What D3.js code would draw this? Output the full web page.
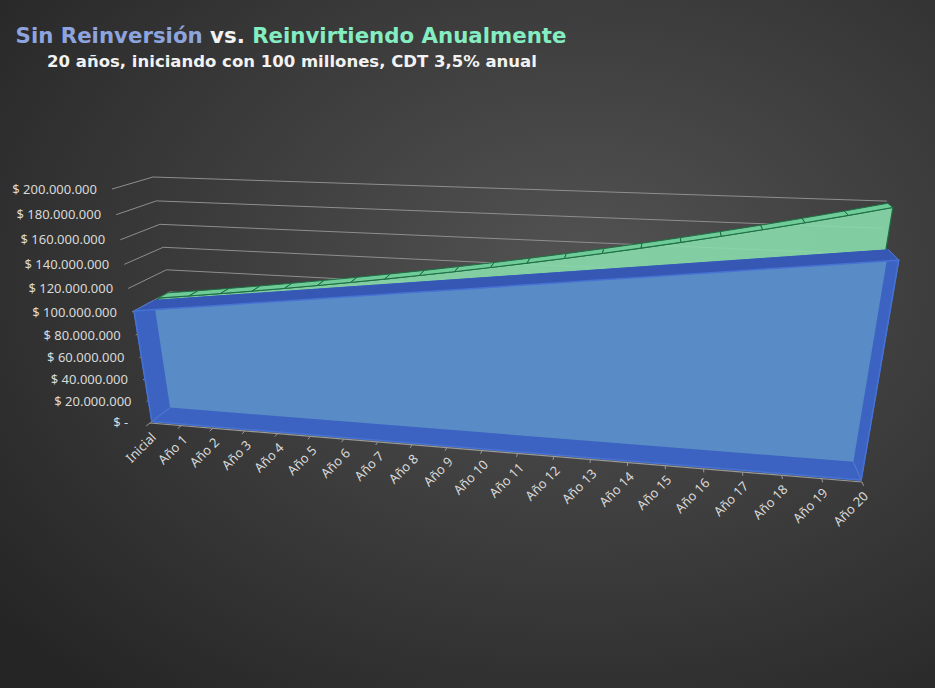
<!DOCTYPE html>
<html>
<head>
<meta charset="utf-8">
<script src="https://cdn.jsdelivr.net/npm/d3@7"></script>
<style>
  html, body { margin: 0; padding: 0; background: #333; }
  svg { display: block; }
</style>
</head>
<body>
<div id="wrapper"></div>
<script>
// data
const categories = ["Inicial", "Año 1", "Año 2", "Año 3", "Año 4", "Año 5", "Año 6", "Año 7", "Año 8", "Año 9", "Año 10",
  "Año 11", "Año 12", "Año 13", "Año 14", "Año 15", "Año 16", "Año 17", "Año 18", "Año 19", "Año 20"]
const sinReinversion = [100000000, 103500000, 107000000, 110500000, 114000000, 117500000, 121000000, 124500000,
  128000000, 131500000, 135000000, 138500000, 142000000, 145500000, 149000000, 152500000, 156000000,
  159500000, 163000000, 166500000, 170000000]
const reinvirtiendo = [100000000, 103500000, 107122500, 110871788, 114752300, 118768631, 122925533, 127227926,
  131680904, 136289735, 141059876, 145996972, 151106866, 156395606, 161869452, 167534883, 173398604,
  179467555, 185748920, 192250132, 198978886]
const yTicks = [0, 20000000, 40000000, 60000000, 80000000, 100000000, 120000000, 140000000, 160000000, 180000000, 200000000]

const width = 935
const height = 688

// perspective camera (u = category, v = value, w = depth; all 0..1)
const cam = {
    a: [150, 603.1, -48.93, 48.0],
    b: [423, -1.9, -252.4, 1.85],
    c: [1, -0.1263, -0.0976, 0.0719],
}
function project(u, v, w) {
    const d = cam.c[0] + cam.c[1] * u + cam.c[2] * v + cam.c[3] * w
    return [
        (cam.a[0] + cam.a[1] * u + cam.a[2] * v + cam.a[3] * w) / d,
        (cam.b[0] + cam.b[1] * u + cam.b[2] * v + cam.b[3] * w) / d,
    ]
}

const xScale = d3.scalePoint().domain(categories).range([0, 1])
const yScale = d3.scaleLinear().domain([0, 200000000]).range([0, 1])

const locale = d3.formatLocale({ decimal: ",", thousands: ".", grouping: [3], currency: ["$ ", ""] })
const fmt = locale.format("$,.0f")
const tickText = d => d === 0 ? "$ -  " : fmt(d)

// depth slots of the two series
const blueFront = 0.05, blueBack = 0.56
const greenFront = 0.68, greenBack = 0.95

const wrapper = d3.select("#wrapper")
    .append("svg")
    .attr("width", width)
    .attr("height", height)

const defs = wrapper.append("defs")
const bg = defs.append("radialGradient")
    .attr("id", "bg")
    .attr("cx", "62%").attr("cy", "40%").attr("r", "80%")
bg.append("stop").attr("offset", "0%").attr("stop-color", "#535353")
bg.append("stop").attr("offset", "100%").attr("stop-color", "#252525")

wrapper.append("rect")
    .attr("width", width)
    .attr("height", height)
    .attr("fill", "url(#bg)")

// title
const title = wrapper.append("text")
    .attr("x", 291)
    .attr("y", 43)
    .attr("text-anchor", "middle")
    .attr("font-family", "DejaVu Sans")
    .attr("font-weight", "bold")
    .attr("font-size", "21.3px")
title.append("tspan").attr("fill", "#8ea4de").text("Sin Reinversión")
title.append("tspan").attr("fill", "#f2f2f2").text(" vs. ")
title.append("tspan").attr("fill", "#84eec2").text("Reinvirtiendo Anualmente")

wrapper.append("text")
    .attr("x", 292)
    .attr("y", 67)
    .attr("text-anchor", "middle")
    .attr("font-family", "DejaVu Sans")
    .attr("font-weight", "bold")
    .attr("font-size", "16.5px")
    .attr("fill", "#f2f2f2")
    .text("20 años, iniciando con 100 millones, CDT 3,5% anual")

const bounds = wrapper.append("g")
const poly = pts => "M" + pts.map(p => project(p[0], p[1], p[2]).join(",")).join("L") + "Z"

// gridlines: left wall then back wall
const grid = bounds.append("g")
grid.selectAll("path")
    .data(yTicks)
    .join("path")
    .attr("d", d => {
        const v = yScale(d)
        return "M" + [project(0, v, 0), project(0, v, 1), project(1, v, 1)].map(p => p.join(",")).join("L")
    })
    .attr("fill", "none")
    .attr("stroke", "#8e8e8e")
    .attr("stroke-width", 1)

// value axis labels
bounds.append("g")
    .selectAll("text")
    .data(yTicks)
    .join("text")
    .attr("x", d => project(0, yScale(d), 0)[0] - 15)
    .attr("y", d => project(0, yScale(d), 0)[1] + 1)
    .attr("text-anchor", "end")
    .attr("dominant-baseline", "middle")
    .style("white-space", "pre")
    .attr("font-family", "Noto Sans")
    .attr("font-size", "13px")
    .attr("fill", "#d9d9d9")
    .text(tickText)

// series helpers
function faceFront(values, w) {
    const pts = categories.map((c, i) => [xScale(c), yScale(values[i]), w])
    pts.push([1, 0, w], [0, 0, w])
    return pts
}
function topQuads(values, wf, wb) {
    const quads = []
    for (let i = 0; i < categories.length - 1; i++) {
        const u0 = xScale(categories[i]), u1 = xScale(categories[i + 1])
        const v0 = yScale(values[i]), v1 = yScale(values[i + 1])
        quads.push([[u0, v0, wf], [u1, v1, wf], [u1, v1, wb], [u0, v0, wb]])
    }
    return quads
}

// green series (behind)
const green = bounds.append("g")
green.append("path")
    .attr("d", poly(faceFront(reinvirtiendo, greenFront)))
    .attr("fill", "#88dcac")
    .attr("fill-opacity", 0.9)
    .attr("stroke", "#1d6e43")
    .attr("stroke-width", 1.2)
green.selectAll(".gtop")
    .data(topQuads(reinvirtiendo, greenFront, greenBack))
    .join("path")
    .attr("class", "gtop")
    .attr("d", poly)
    .attr("fill", "#6fcb98")
    .attr("stroke", "#1d6e43")
    .attr("stroke-width", 1)

// blue series (front)
const blue = bounds.append("g")
const sv0 = yScale(sinReinversion[0])
const svN = yScale(sinReinversion[sinReinversion.length - 1])
const blueFaces = [
    faceFront(sinReinversion, blueBack),
    [[0, 0, blueFront], [1, 0, blueFront], [1, 0, blueBack], [0, 0, blueBack]],
    [[0, 0, blueFront], [0, sv0, blueFront], [0, sv0, blueBack], [0, 0, blueBack]],
    [[1, 0, blueFront], [1, svN, blueFront], [1, svN, blueBack], [1, 0, blueBack]],
    faceFront(sinReinversion, blueFront),
]
blue.selectAll(".bface")
    .data(blueFaces)
    .join("path")
    .attr("class", "bface")
    .attr("d", poly)
    .attr("fill", "#3c63c2")
    .attr("stroke", "#3c63c2")
    .attr("stroke-width", 1)
blue.selectAll(".btop")
    .data(topQuads(sinReinversion, blueFront, blueBack))
    .join("path")
    .attr("class", "btop")
    .attr("d", poly)
    .attr("fill", "#3658b4")
    .attr("stroke", "#3658b4")
    .attr("stroke-width", 0.6)

defs.append("clipPath")
    .attr("id", "frontClip")
    .append("path")
    .attr("d", poly(faceFront(sinReinversion, blueFront)))
blue.append("path")
    .attr("d", poly(faceFront(sinReinversion, blueBack)))
    .attr("clip-path", "url(#frontClip)")
    .attr("fill", "#598bc6")

// depth edges at the corners
blue.selectAll(".edge")
    .data([[0, 0], [1, 0], [1, svN], [0, sv0]])
    .join("path")
    .attr("class", "edge")
    .attr("d", d => "M" + project(d[0], d[1], blueFront).join(",") + "L" + project(d[0], d[1], blueBack).join(","))
    .attr("stroke", "#5f86d6")
    .attr("stroke-opacity", 0.7)
    .attr("stroke-width", 1)
blue.append("path")
    .attr("d", poly(faceFront(sinReinversion, blueFront)))
    .attr("fill", "none")
    .attr("stroke", "#4672d2")
    .attr("stroke-width", 1.5)

// category axis
const axis = bounds.append("g")
axis.append("path")
    .attr("d", "M" + project(0, 0, 0).join(",") + "L" + project(1, 0, 0).join(","))
    .attr("stroke", "#9a9a9a")
    .attr("stroke-width", 1.2)
axis.selectAll(".tick")
    .data(categories)
    .join("path")
    .attr("class", "tick")
    .attr("d", d => "M" + project(xScale(d), 0, 0).join(",") + "L" + project(xScale(d), 0, -0.1).join(","))
    .attr("stroke", "#9a9a9a")
    .attr("stroke-width", 1)
axis.selectAll("text")
    .data(categories)
    .join("text")
    .attr("transform", d => {
        const p = project(xScale(d), 0, 0)
        return `translate(${p[0] + 7},${p[1] + 15}) rotate(-45)`
    })
    .attr("text-anchor", "end")
    .attr("font-family", "Noto Sans")
    .attr("font-size", "13px")
    .attr("fill", "#d9d9d9")
    .text(d => d)
</script>
</body>
</html>
